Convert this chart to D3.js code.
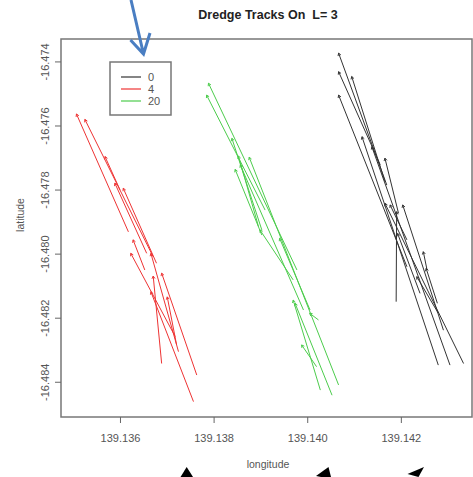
<!DOCTYPE html>
<html>
<head>
<meta charset="utf-8">
<script src="https://cdn.jsdelivr.net/npm/d3@7"></script>
<style>
  body { margin: 0; background: #fff; }
  svg { display: block; font-family: "Liberation Sans", Arial, sans-serif; }
</style>
</head>
<body>
<svg id="chart" width="473" height="477"></svg>
<script>
// tick values
const lonTicks = [139.136, 139.138, 139.140, 139.142];
const latTicks = [-16.474, -16.476, -16.478, -16.480, -16.482, -16.484];

// legend entries
const groups = ["0", "4", "20"];

// dredge tracks: [lonArrow, latArrow, lonTail, latTail], arrow head on the first point
const tracks0 = [
  [139.14067, -16.47374, 139.14170, -16.47786],
  [139.14067, -16.47432, 139.14156, -16.47723],
  [139.14095, -16.47447, 139.14166, -16.47775],
  [139.14067, -16.47505, 139.14213, -16.48041],
  [139.14117, -16.47635, 139.14280, -16.48348],
  [139.14138, -16.47666, 139.14305, -16.48348],
  [139.14166, -16.47702, 139.14195, -16.47874],
  [139.14166, -16.47843, 139.14334, -16.48343],
  [139.14177, -16.47848, 139.14213, -16.47957],
  [139.14191, -16.47869, 139.14190, -16.48150],
  [139.14204, -16.47848, 139.14291, -16.48239],
  [139.14193, -16.47937, 139.14241, -16.48124],
  [139.14234, -16.48072, 139.14280, -16.48186],
  [139.14254, -16.48046, 139.14278, -16.48155],
  [139.14248, -16.47994, 139.14256, -16.48051]
];

const tracks4 = [
  [139.13507, -16.47564, 139.13618, -16.47932],
  [139.13525, -16.47581, 139.13671, -16.48010],
  [139.13568, -16.47697, 139.13600, -16.47801],
  [139.13589, -16.47780, 139.13657, -16.47999],
  [139.13607, -16.47796, 139.13678, -16.48030],
  [139.13628, -16.47957, 139.13653, -16.48051],
  [139.13623, -16.47999, 139.13718, -16.48259],
  [139.13666, -16.47999, 139.13725, -16.48306],
  [139.13671, -16.48070, 139.13689, -16.48343],
  [139.13666, -16.48119, 139.13757, -16.48462],
  [139.13689, -16.48061, 139.13764, -16.48379],
  [139.13701, -16.48135, 139.13721, -16.48285]
];

const tracks20 = [
  [139.13789, -16.47468, 139.13978, -16.48051],
  [139.13785, -16.47505, 139.13910, -16.47864],
  [139.13839, -16.47640, 139.13903, -16.47926],
  [139.13853, -16.47695, 139.13896, -16.47916],
  [139.13846, -16.47737, 139.13903, -16.47942],
  [139.13857, -16.47723, 139.13992, -16.48176],
  [139.13876, -16.47699, 139.14067, -16.48410],
  [139.13899, -16.47926, 139.13970, -16.48082],
  [139.13941, -16.47952, 139.14006, -16.48176],
  [139.13970, -16.48145, 139.14028, -16.48426],
  [139.13974, -16.48155, 139.14053, -16.48442],
  [139.13988, -16.48285, 139.14020, -16.48353],
  [139.14005, -16.48186, 139.14024, -16.48207]
];

const colors = {"0": "#333333", "4": "#ee3333", "20": "#4ccc4c"};
const trackSets = [
  {key: "0", data: tracks0},
  {key: "4", data: tracks4},
  {key: "20", data: tracks20}
];

const svg = d3.select("#chart");
const box = {left: 61, right: 472, top: 39, bottom: 417};

const x = d3.scaleLinear().domain([139.13474, 139.14352]).range([box.left, box.right]);
const y = d3.scaleLinear().domain([-16.47330, -16.48510]).range([box.top, box.bottom]);

const fmt = d => d.toFixed(3);   // plain hyphen minus like R

// title
svg.append("text")
   .attr("x", 268).attr("y", 19)
   .attr("text-anchor", "middle")
   .style("white-space", "pre")
   .attr("font-size", 12.5).attr("font-weight", "bold")
   .attr("fill", "#222")
   .text("Dredge Tracks On  L= 3");

// tracks
const g = svg.append("g");
trackSets.forEach(set => {
  const sg = g.append("g").attr("stroke", colors[set.key]).attr("stroke-width", 1).attr("fill", "none");
  sg.selectAll("line")
    .data(set.data)
    .enter().append("line")
    .attr("x1", d => x(d[2])).attr("y1", d => y(d[3]))
    .attr("x2", d => x(d[0])).attr("y2", d => y(d[1]));

  // small arrow heads like R arrows(length = small)
  sg.selectAll("path")
    .data(set.data)
    .enter().append("path")
    .attr("d", d => {
      const tx = x(d[0]), ty = y(d[1]);
      const a = Math.atan2(ty - y(d[3]), tx - x(d[2]));
      const len = 3, spread = Math.PI / 6;
      const p1 = [tx - len * Math.cos(a - spread), ty - len * Math.sin(a - spread)];
      const p2 = [tx - len * Math.cos(a + spread), ty - len * Math.sin(a + spread)];
      return "M" + p1 + "L" + tx + "," + ty + "L" + p2;
    });
});

// frame
svg.append("rect")
   .attr("x", box.left).attr("y", box.top)
   .attr("width", box.right - box.left).attr("height", box.bottom - box.top)
   .attr("fill", "none").attr("stroke", "#777").attr("stroke-width", 1.5);

// x axis
const xAxis = svg.append("g")
   .attr("transform", "translate(0," + box.bottom + ")")
   .call(d3.axisBottom(x).tickValues(lonTicks).tickFormat(fmt).tickSize(6).tickPadding(11));
xAxis.select(".domain").remove();
xAxis.selectAll(".tick line").attr("stroke", "#666");
xAxis.selectAll(".tick text")
     .attr("font-size", 11).attr("fill", "#555")
     .attr("font-family", "Liberation Sans, Arial, sans-serif");

// y axis
const yAxis = svg.append("g")
   .attr("transform", "translate(" + box.left + ",0)")
   .call(d3.axisLeft(y).tickValues(latTicks).tickFormat(fmt).tickSize(6));
yAxis.select(".domain").remove();
yAxis.selectAll(".tick line").attr("stroke", "#666");
yAxis.selectAll(".tick text")
     .attr("x", null).attr("dy", null)
     .attr("text-anchor", "middle")
     .attr("transform", "translate(-12,0) rotate(-90)")
     .attr("font-size", 11).attr("fill", "#555")
     .attr("font-family", "Liberation Sans, Arial, sans-serif");

// axis titles
svg.append("text")
   .attr("x", 268).attr("y", 468)
   .attr("text-anchor", "middle")
   .attr("font-size", 10.5).attr("fill", "#555")
   .text("longitude");

svg.append("text")
   .attr("transform", "translate(24,215) rotate(-90)")
   .attr("text-anchor", "middle")
   .attr("font-size", 10.5).attr("fill", "#555")
   .text("latitude");

// legend
const legend = svg.append("g").attr("transform", "translate(110,62)");
legend.append("rect")
      .attr("width", 61).attr("height", 53)
      .attr("fill", "#fff").attr("stroke", "#777").attr("stroke-width", 1.5);
const li = legend.selectAll(".item")
      .data(groups)
      .enter().append("g")
      .attr("class", "item")
      .attr("transform", (d, i) => "translate(0," + (15 + i * 12) + ")");
li.append("line")
  .attr("x1", 11).attr("x2", 31)
  .attr("stroke", d => colors[d]).attr("stroke-width", 1.2);
li.append("text")
  .attr("x", 38).attr("dy", "0.35em")
  .attr("font-size", 11).attr("fill", "#555")
  .text(d => d);

// slide annotation arrows around the chart
svg.append("path")
   .attr("d", "M131,0 L143.5,54 M130.5,40 L143.5,54 L150,33")
   .attr("fill", "none").attr("stroke", "#4a7ec2").attr("stroke-width", 3)
   .attr("stroke-linejoin", "miter");

const heads = [
  "M186.7,467 L180.5,477 L193,477 Z",
  "M328.5,467 L316,476 L321,477 L331,477 Z",
  "M424,467 L407.5,474 L418.5,477 Z"
];
svg.selectAll(".ann")
   .data(heads)
   .enter().append("path")
   .attr("class", "ann")
   .attr("d", d => d)
   .attr("fill", "#000");
</script>
</body>
</html>
